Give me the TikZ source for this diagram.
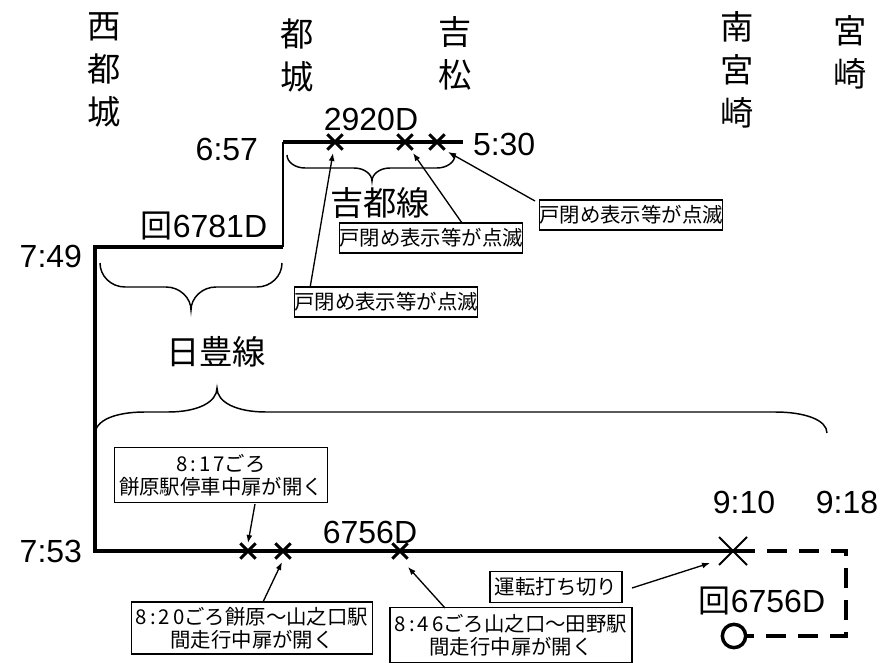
\documentclass[tikz,border=0pt]{standalone}
\usepackage{fontspec}
\setmainfont{Liberation Sans}
\newfontfamily\cjk{Noto Sans CJK JP}
\usetikzlibrary{arrows.meta,shapes.misc}
\newcommand\dk{\kern2.2pt}
\begin{document}
\begin{tikzpicture}[x=0.75pt,y=-0.75pt,
 every node/.style={inner sep=0pt, outer sep=0pt},
 stn/.style={anchor=north, align=center, font=\cjk\fontsize{25pt}{32.25pt}\selectfont},
 lbl/.style={font=\fontsize{24pt}{28pt}\selectfont},
 cjklbl/.style={font=\cjk\fontsize{25pt}{30pt}\selectfont},
 rail/.style={line width=3pt},
 thinrail/.style={line width=1.5pt},
 xmark/.style={cross out, draw, line width=2.2pt, minimum size=11.5pt},
 bigx/.style={cross out, draw, line width=1.5pt, minimum size=21pt},
 brace/.style={line width=1.1pt},
 callout/.style={draw, line width=1pt, align=center, font=\cjk\fontsize{15.3pt}{17.5pt}\selectfont},
 arr/.style={line width=1pt, -{Latex[length=6pt,width=4.5pt]}},
]
\useasboundingbox (0,0) rectangle (883,663);

% station names
\node[stn] (sNishi) at (104,13) {西\\都\\城};
\node[stn] (sMiyako) at (297,19) {都\\城};
\node[stn] (sYoshi) at (455,17) {吉\\松};
\node[stn] (sMinami) at (737,12) {南\\宮\\崎};
\node[stn] (sMiya) at (850,15) {宮\\崎};

% times
\node[lbl, anchor=east] (t657) at (258,149) {6:57};
\node[lbl, anchor=west] (t530) at (473,144) {5:30};
\node[lbl, anchor=east] (t749) at (82,256) {7:49};
\node[lbl, anchor=east] (t753) at (82,551) {7:53};
\node[lbl] (t910) at (744,502) {9:10};
\node[lbl] (t918) at (847,502) {9:18};

% train labels
\node[lbl] (n2920) at (371,119) {2920D};
\node[lbl] (n6781) at (204,226) {{\cjk 回}6781D};
\node[lbl] (n6756) at (370,532) {6756D};
\node[lbl] (n6756k) at (762,601) {{\cjk 回}6756D};

% line names
\node[cjklbl] (lKitto) at (380,203) {吉都線};
\node[cjklbl] (lNippo) at (216,352) {日豊線};

% rails
\coordinate (c2920L) at (283,142);
\coordinate (c2920R) at (463,142);
\coordinate (c6781R) at (283,247);
\coordinate (cCorner) at (95,247);
\coordinate (cCorner2) at (95,551);
\coordinate (cEnd) at (755,551);
\draw[rail] (c2920L) -- (c2920R);
\draw[thinrail] (c2920L) -- (c6781R);
\draw[rail] (c6781R) -- (cCorner) -- (cCorner2) -- (cEnd);

% dashed return
\node[circle, draw, line width=2.6pt, minimum size=17.5pt] (circ) at (734,636) {};
\coordinate (dTR) at (846,551);
\coordinate (dBR) at (846,636);
\draw[rail, dash pattern=on 15pt off 9pt, dash phase=15pt] (cEnd) -- (dTR) -- (dBR) -- (circ.east);

% crosses
\node[xmark] (x1) at (335,142) {};
\node[xmark] (x2) at (405,142) {};
\node[xmark] (x3) at (437,142) {};
\node[xmark] (x4) at (248,551) {};
\node[xmark] (x5) at (283,551) {};
\node[xmark] (x6) at (400,551) {};
\node[bigx] (x7) at (733,551) {};

% braces
\draw[brace] (287,155) .. controls (287,162) and (295,168) .. (305,168) -- (354,168)
  .. controls (364,168) and (372,174) .. (372,181)
  .. controls (372,174) and (380,168) .. (390,168) -- (437,168)
  .. controls (447,168) and (455,162) .. (455,155);
\draw[brace] (100,263) .. controls (100,276) and (111,287) .. (125,287) -- (166,287)
  .. controls (180,287) and (191,298) .. (191,310)
  .. controls (191,298) and (202,287) .. (216,287) -- (257,287)
  .. controls (271,287) and (282,276) .. (282,263);
\draw[brace] (95,432) .. controls (98,418) and (120,412) .. (145,412) -- (168,412)
  .. controls (198,412) and (217,402) .. (217,388)
  .. controls (217,402) and (236,412) .. (266,412) -- (775,412)
  .. controls (805,412) and (827,420) .. (827,433);

% callouts
\node[callout, minimum width=136.5pt, minimum height=22.5pt] (bA) at (631,215) {戸閉め表示等が点滅};
\node[callout, minimum width=136.5pt, minimum height=22.5pt] (bB) at (431,238) {戸閉め表示等が点滅};
\node[callout, minimum width=135pt, minimum height=22.5pt] (bC) at (386,302) {戸閉め表示等が点滅};
\node[callout, minimum width=160pt, minimum height=41pt] (bD) at (221,475) {8\dk:\dk1\dk7ごろ\\餅原駅停車中扉が開く};
\node[callout, minimum width=181pt, minimum height=39pt] (bE) at (252,628) {8\dk:\dk2\dk0ごろ餅原～山之口駅\\間走行中扉が開く};
\node[callout, minimum width=181.5pt, minimum height=41pt] (bF) at (511,635) {8\dk:\dk4\dk6ごろ山之口～田野駅\\間走行中扉が開く};
\node[callout, minimum width=99pt, minimum height=23pt] (bG) at (556,587) {運転打ち切り};

% arrow tips
\coordinate (tA) at (448,152);
\coordinate (tB) at (413,153);
\coordinate (tC) at (333,153);
\coordinate (tD) at (248,543);
\coordinate (tE) at (282,562);
\coordinate (tF) at (408,567);
\coordinate (tG) at (710,563);
\coordinate (sA) at (535,201);
\coordinate (sB) at (462,223);
\coordinate (sC) at (310,288);
\coordinate (sD) at (255,504);
\coordinate (sE) at (263,602);
\coordinate (sF) at (445,608);
\coordinate (sG) at (632,588);
\draw[arr] (sA) -- (tA);
\draw[arr] (sB) -- (tB);
\draw[arr] (sC) -- (tC);
\draw[arr] (sD) -- (tD);
\draw[arr] (sE) -- (tE);
\draw[arr] (sF) -- (tF);
\draw[arr] (sG) -- (tG);
\end{tikzpicture}
\end{document}
